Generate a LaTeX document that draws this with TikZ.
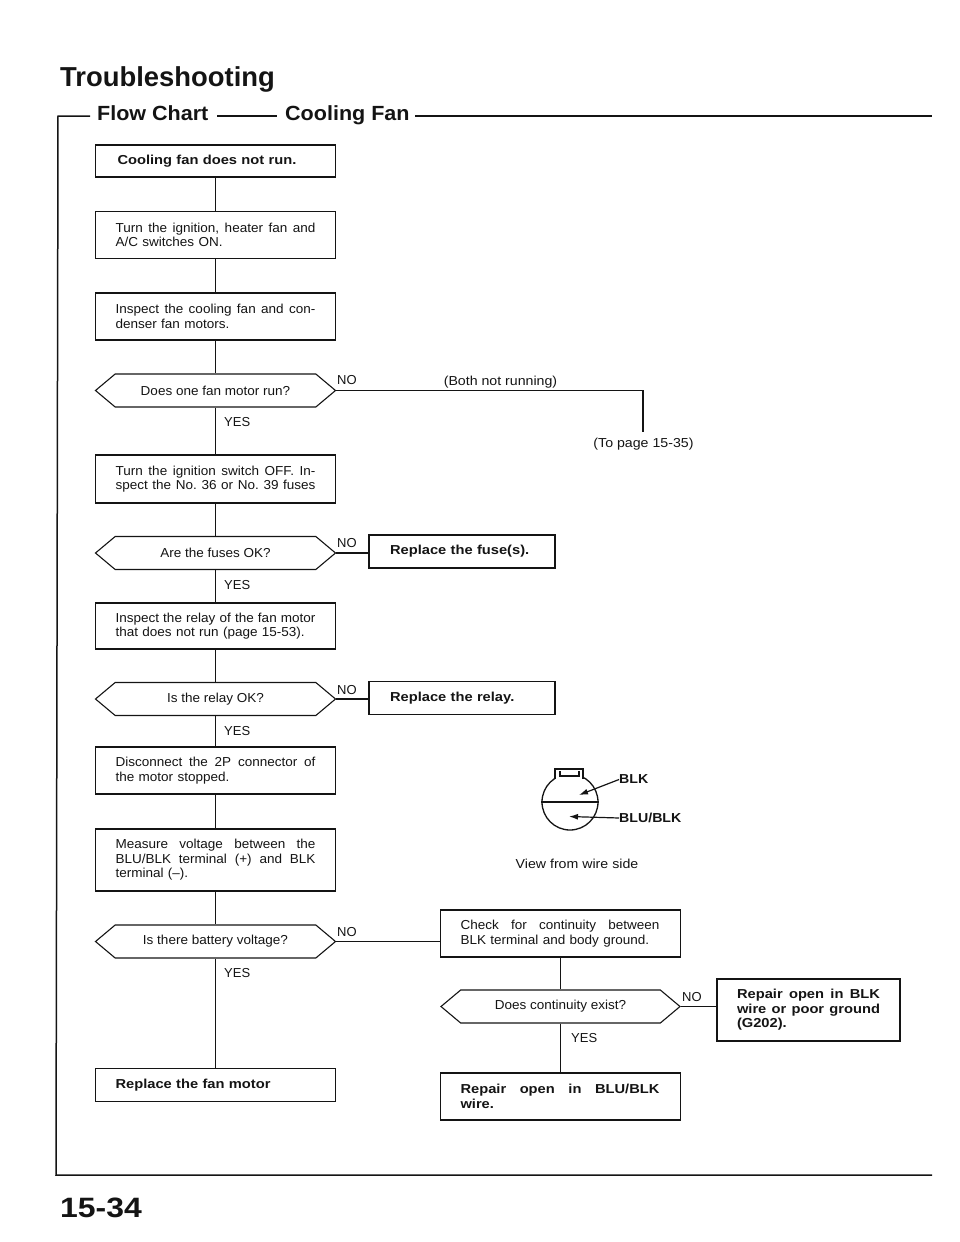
\documentclass[tikz,border=0pt]{standalone}
\usepackage{fontspec}
\setmainfont{Liberation Sans}
\newfontfamily\bodyfam[FakeStretch=1.04]{Liberation Sans}
\newfontfamily\boldfam[FakeStretch=1.13]{Liberation Sans}
\newfontfamily\capfam[FakeStretch=1.09]{Liberation Sans}
\newfontfamily\headfam[FakeStretch=1.05]{Liberation Sans}
\newfontfamily\pagefam[FakeStretch=1.14]{Liberation Sans}
\usetikzlibrary{shapes.symbols,arrows.meta}
\newcommand{\jl}[2]{\leavevmode\hbox to #1pt{\frenchspacing\spaceskip=.28em plus 1fil minus .1em\relax #2}}
\newcommand{\bodyf}{\fontsize{13}{14.6}\selectfont\bodyfam}
\newcommand{\boldf}{\fontsize{13}{14.6}\selectfont\boldfam\bfseries}
\definecolor{ink}{gray}{0.08}
\tikzset{
  flowbox/.style={draw=ink,line width=1.1pt,rectangle,inner ysep=0pt,inner xsep=20pt,text width=200pt,align=left,font=\bodyf,text=ink},
  decide/.style={draw=ink,line width=1.1pt,signal,signal to=east and west,signal pointer angle=80,inner sep=0pt,minimum width=240pt,minimum height=33pt,font=\bodyf,text=ink,align=center},
  link/.style={draw=ink,line width=1.1pt},
  yesno/.style={font=\fontsize{13}{14}\selectfont,text=ink,inner sep=0pt,anchor=west},
  caption/.style={font=\fontsize{13}{14}\selectfont\capfam,text=ink,inner sep=0pt},
  wirelabel/.style={anchor=west,inner sep=0pt,text=ink,font=\fontsize{13}{14}\selectfont\capfam\bfseries},
  heading/.style={anchor=base west,inner sep=0pt,text=ink,font=\fontsize{20.5}{22}\selectfont\headfam\bfseries},
  rule/.style={draw=ink,line width=1.5pt},
  wire/.style={draw=ink,line width=1.2pt},
}
\begin{document}
\begin{tikzpicture}[x=1pt,y=-1pt]
\useasboundingbox (0,0) rectangle (960,1242);
% headings
\node[anchor=base west,inner sep=0pt,text=ink,font=\fontsize{27.4}{30}\selectfont\bfseries] (title) at (60,86) {Troubleshooting};
\node[heading] (fc) at (97,120) {Flow Chart};
\node[heading] (cf) at (285,120) {Cooling Fan};
\node[anchor=base west,inner sep=0pt,text=ink,font=\fontsize{28}{30}\selectfont\pagefam\bfseries] (page) at (60,1217) {15-34};
% frame
\draw[rule] (90,116) -- (58,116) -- (56,1175) -- (932,1175);
\draw[rule] (217,116) -- (277,116);
\draw[rule] (415,116) -- (932,116);
% left column
\node[flowbox,minimum height=32pt,font=\boldf] (b1) at (215.5,161) {\hspace*{2pt}Cooling fan does not run.};
\node[flowbox,minimum height=47pt] (b2) at (215.5,235) {\jl{200}{Turn the ignition, heater fan and}\\A/C switches ON.};
\node[flowbox,minimum height=47pt] (b3) at (215.5,316.5) {\jl{200}{Inspect the cooling fan and con-}\\denser fan motors.};
\node[decide] (d1) at (215.5,390.5) {Does one fan motor run?};
\node[flowbox,minimum height=48pt] (b4) at (215.5,479) {\jl{200}{Turn the ignition switch OFF. In-}\\\jl{200}{spect the No. 36 or No. 39 fuses}};
\node[decide] (d2) at (215.5,553) {Are the fuses OK?};
\node[flowbox,minimum height=46pt] (b5) at (215.5,626) {\jl{200}{Inspect the relay of the fan motor}\\that does not run (page 15-53).};
\node[decide] (d3) at (215.5,699) {Is the relay OK?};
\node[flowbox,minimum height=47pt] (b6) at (215.5,770.5) {\jl{200}{Disconnect the 2P connector of}\\the motor stopped.};
\node[flowbox,minimum height=62pt] (b7) at (215.5,860) {\jl{200}{Measure voltage between the}\\\jl{200}{BLU/BLK terminal (+) and BLK}\\terminal (–).};
\node[decide] (d4) at (215.5,941.5) {Is there battery voltage?};
\node[flowbox,minimum height=33pt,font=\boldf] (b8) at (215.5,1085) {Replace the fan motor};
% middle column
\node[flowbox,minimum height=33pt,text width=144pt,inner xsep=21pt,font=\boldf] (r1) at (462,551.5) {Replace the fuse(s).};
\node[flowbox,minimum height=33pt,text width=144pt,inner xsep=21pt,font=\boldf] (r2) at (462,698) {Replace the relay.};
% right column
\node[flowbox,minimum height=47pt] (c1) at (560.5,933.5) {\jl{199}{Check for continuity between}\\BLK terminal and body ground.};
\node[decide,minimum width=239pt] (d5) at (560.5,1006.5) {Does continuity exist?};
\node[flowbox,minimum height=47pt,font=\boldf] (c2) at (560.5,1096.5) {\jl{199}{Repair open in BLU/BLK}\\wire.};
\node[flowbox,minimum height=62pt,text width=143pt,font=\boldf] (c3) at (808.5,1010) {\jl{143}{Repair open in BLK}\\\jl{143}{wire or poor ground}\\(G202).};
% connectors
\draw[link] (b1.south) -- (b2.north);
\draw[link] (b2.south) -- (b3.north);
\draw[link] (b3.south) -- (d1.north);
\draw[link] (d1.south) -- (b4.north);
\draw[link] (b4.south) -- (d2.north);
\draw[link] (d2.south) -- (b5.north);
\draw[link] (b5.south) -- (d3.north);
\draw[link] (d3.south) -- (b6.north);
\draw[link] (b6.south) -- (b7.north);
\draw[link] (b7.south) -- (d4.north);
\draw[link] (d4.south) -- (b8.north);
\draw[link] (d2.east) -- (r1.west |- d2.east);
\draw[link] (d3.east) -- (r2.west |- d3.east);
\draw[link] (d4.east) -- (c1.west |- d4.east);
\draw[link] (c1.south) -- (d5.north);
\draw[link] (d5.south) -- (c2.north);
\draw[link] (d5.east) -- (c3.west |- d5.east);
\coordinate (toend) at (643,432);
\draw[link] (d1.east) -| (toend);
% labels
\node[yesno] (n1) at (337,380) {NO};
\node[yesno] (y1) at (224,422) {YES};
\node[yesno] (n2) at (337,543) {NO};
\node[yesno] (y2) at (224,585) {YES};
\node[yesno] (n3) at (337,690) {NO};
\node[yesno] (y3) at (224,731) {YES};
\node[yesno] (n4) at (337,932) {NO};
\node[yesno] (y4) at (224,973) {YES};
\node[yesno] (n5) at (682,997) {NO};
\node[yesno] (y5) at (571,1038) {YES};
\node[caption,anchor=center] (both) at (500.5,382) {(Both not running)};
\node[caption,anchor=center] (topage) at (643.5,444) {(To page 15-35)};
% connector view
\node[circle,draw=ink,line width=1.3pt,minimum size=56pt,inner sep=0pt] (plug) at (570,802) {};
\draw[wire] (plug.west) -- (plug.east);
\draw[wire,fill=white] (555,779) -- (555,769) -- (583,769) -- (583,779);
\draw[wire] (560,771) -- (560,776) -- (579,776) -- (579,771);
\node[wirelabel] (blk) at (619,779.5) {BLK};
\node[wirelabel] (blu) at (619,818) {BLU/BLK};
\coordinate (blkend) at (579,795);
\coordinate (bluend) at (569,816.5);
\draw[wire,-{Latex[length=9pt,width=6pt]}] (blk.west) -- (blkend);
\draw[wire,-{Latex[length=9pt,width=6pt]}] (blu.west) -- (bluend);
\node[caption,anchor=center] (view) at (577,864) {View from wire side};
\end{tikzpicture}
\end{document}
